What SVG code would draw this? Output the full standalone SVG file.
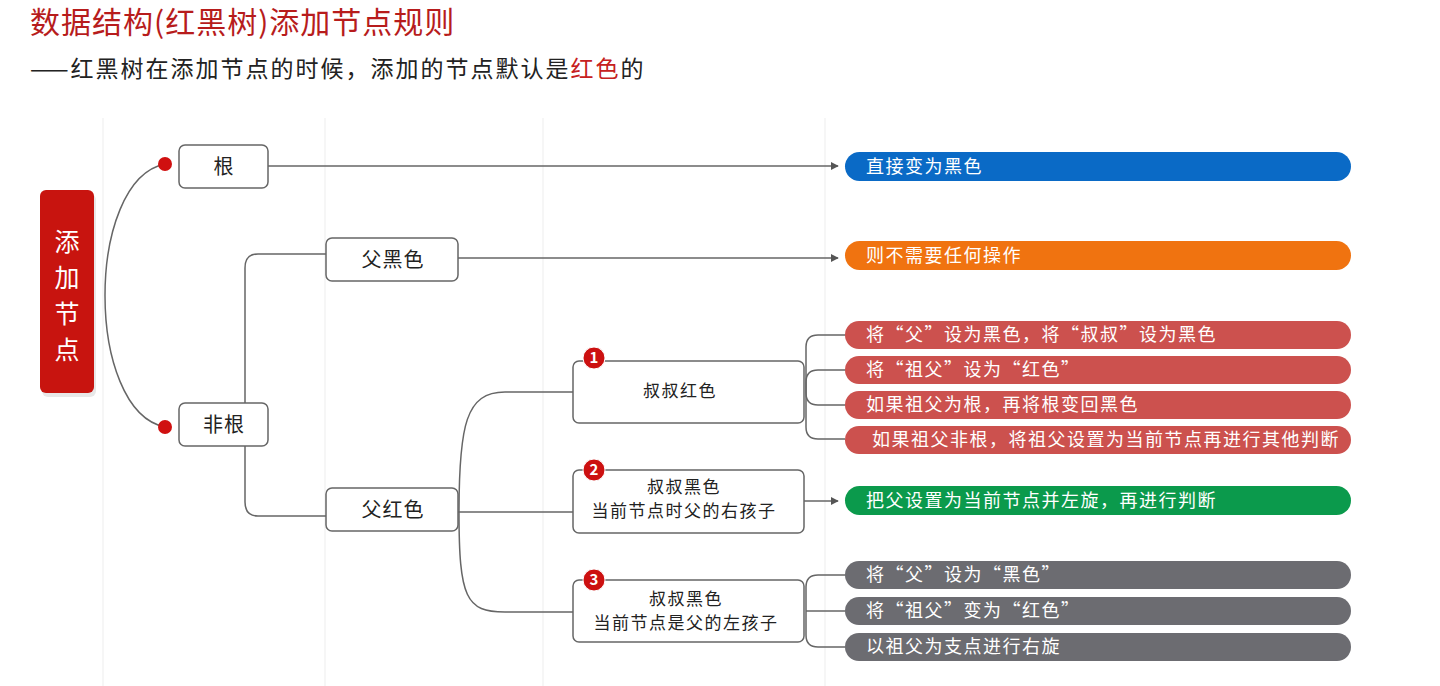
<svg xmlns="http://www.w3.org/2000/svg" width="1440" height="686" viewBox="0 0 1440 686">
<style>
text{font-family:"Noto Sans CJK SC","Noto Sans",sans-serif}
.t{fill:#b71c1c;font-size:30px;letter-spacing:1px}
.s{fill:#222;font-size:23px;letter-spacing:2px}
.nb{fill:#fff;stroke:#666;stroke-width:1.5}
.nt{fill:#222;font-size:20px;text-anchor:middle;letter-spacing:1px}
.bt{fill:#222;font-size:17px;text-anchor:middle;letter-spacing:1.5px}
.bar{fill:#fff;font-size:18px;letter-spacing:1.5px}
.ln{fill:none;stroke:#666;stroke-width:1.5}
.grid{stroke:#f3f3f3;stroke-width:1.5}
.badge{fill:#cc1010;stroke:#fff;stroke-width:1}
.bn{fill:#fff;font-size:15px;font-weight:bold;text-anchor:middle}
.vt{fill:#fff;font-size:25px;text-anchor:middle}
</style>
<defs>
<marker id="ar" viewBox="0 0 10 10" refX="9" refY="5" markerWidth="8" markerHeight="8" markerUnits="userSpaceOnUse" orient="auto"><path d="M0,0 L10,5 L0,10 z" fill="#555"/></marker>
</defs>
<rect width="1440" height="686" fill="#fff"/>
<g id="grid">
<line class="grid" x1="103" y1="118" x2="103" y2="686"/>
<line class="grid" x1="325" y1="118" x2="325" y2="686"/>
<line class="grid" x1="543" y1="118" x2="543" y2="686"/>
<line class="grid" x1="825" y1="118" x2="825" y2="686"/>
</g>
<g id="title">
<text class="t" x="30" y="33">数据结构(红黑树)添加节点规则</text>
<text class="s" x="30" y="77">——红黑树在添加节点的时候，添加的节点默认是<tspan fill="#c62020">红色</tspan>的</text>
</g>
<g id="connectors">
<path class="ln" d="M165,164 C85,180 85,411 165,427"/>
<path class="ln" d="M268,166 L838,166" marker-end="url(#ar)"/>
<path class="ln" d="M326,254 L258,254 Q245,254 245,268 L245,502 Q245,516 258,516 L326,516"/>
<path class="ln" d="M458,258 L838,258" marker-end="url(#ar)"/>
<path class="ln" d="M459,512 C459,425 466,392 505,392 L573,392"/>
<path class="ln" d="M458,512 L573,512"/>
<path class="ln" d="M459,512 C459,598 466,612 505,612 L573,612"/>
<path class="ln" d="M806,391 L806,347 Q806,335 818,335 L845,335"/>
<path class="ln" d="M806,391 L806,382 Q806,370 818,370 L845,370"/>
<path class="ln" d="M806,391 L806,393 Q806,405 818,405 L845,405"/>
<path class="ln" d="M806,391 L806,427 Q806,439 818,439 L845,439"/>
<path class="ln" d="M804,501 L838,501" marker-end="url(#ar)"/>
<path class="ln" d="M806,611 L806,587 Q806,575 818,575 L845,575"/>
<path class="ln" d="M806,611 L845,611"/>
<path class="ln" d="M806,611 L806,635 Q806,647 818,647 L845,647"/>
</g>
<g id="root-node">
<rect x="42" y="194" width="54" height="203" rx="6" fill="#e8e8e8"/>
<rect x="40" y="190" width="54" height="203" rx="6" fill="#c8140f"/>
<text class="vt" x="67" y="251">添</text>
<text class="vt" x="67" y="287">加</text>
<text class="vt" x="67" y="323">节</text>
<text class="vt" x="67" y="359">点</text>
</g>
<g id="dots">
<circle cx="165" cy="164" r="7" fill="#d01010"/>
<circle cx="165" cy="427" r="7" fill="#d01010"/>
</g>
<g id="n-gen"><rect class="nb" x="179" y="145" width="89" height="43" rx="6"/><text class="nt" x="224" y="174">根</text></g>
<g id="n-feigen"><rect class="nb" x="179" y="403" width="89" height="43" rx="6"/><text class="nt" x="224" y="432">非根</text></g>
<g id="n-fuhei"><rect class="nb" x="326" y="238" width="132" height="43" rx="6"/><text class="nt" x="393" y="267">父黑色</text></g>
<g id="n-fuhong"><rect class="nb" x="326" y="488" width="132" height="43" rx="6"/><text class="nt" x="393" y="517">父红色</text></g>
<g id="case1">
<rect class="nb" x="573" y="361" width="231" height="62" rx="6"/>
<text class="bt" x="680" y="397">叔叔红色</text>
<circle class="badge" cx="594" cy="358" r="11"/><text class="bn" x="594" y="363">1</text>
</g>
<g id="case2">
<rect class="nb" x="573" y="470" width="231" height="63" rx="6"/>
<text class="bt" x="684" y="493">叔叔黑色</text>
<text class="bt" x="684" y="517">当前节点时父的右孩子</text>
<circle class="badge" cx="594" cy="470" r="11"/><text class="bn" x="594" y="475">2</text>
</g>
<g id="case3">
<rect class="nb" x="573" y="580" width="231" height="62" rx="6"/>
<text class="bt" x="686" y="605">叔叔黑色</text>
<text class="bt" x="686" y="629">当前节点是父的左孩子</text>
<circle class="badge" cx="594" cy="580" r="11"/><text class="bn" x="594" y="585">3</text>
</g>
<g id="r-blue"><rect x="845" y="152" width="506" height="29" rx="14.5" fill="#0a6ac6"/><text class="bar" x="866" y="173">直接变为黑色</text></g>
<g id="r-orange"><rect x="845" y="241" width="506" height="29" rx="14.5" fill="#f07310"/><text class="bar" x="866" y="262">则不需要任何操作</text></g>
<g id="r-red1"><rect x="845" y="321" width="506" height="28" rx="14" fill="#cc514e"/><text class="bar" x="866" y="341">将“父”设为黑色，将“叔叔”设为黑色</text></g>
<g id="r-red2"><rect x="845" y="356" width="506" height="28" rx="14" fill="#cc514e"/><text class="bar" x="866" y="376">将“祖父”设为“红色”</text></g>
<g id="r-red3"><rect x="845" y="391" width="506" height="28" rx="14" fill="#cc514e"/><text class="bar" x="866" y="411">如果祖父为根，再将根变回黑色</text></g>
<g id="r-red4"><rect x="845" y="426" width="506" height="28" rx="14" fill="#cc514e"/><text class="bar" x="872" y="446">如果祖父非根，将祖父设置为当前节点再进行其他判断</text></g>
<g id="r-green"><rect x="845" y="486" width="506" height="29" rx="14.5" fill="#0b9a4c"/><text class="bar" x="866" y="507">把父设置为当前节点并左旋，再进行判断</text></g>
<g id="r-gray1"><rect x="845" y="561" width="506" height="28" rx="14" fill="#6c6c71"/><text class="bar" x="866" y="581">将“父”设为“黑色”</text></g>
<g id="r-gray2"><rect x="845" y="597" width="506" height="28" rx="14" fill="#6c6c71"/><text class="bar" x="866" y="617">将“祖父”变为“红色”</text></g>
<g id="r-gray3"><rect x="845" y="633" width="506" height="28" rx="14" fill="#6c6c71"/><text class="bar" x="866" y="653">以祖父为支点进行右旋</text></g>
</svg>
